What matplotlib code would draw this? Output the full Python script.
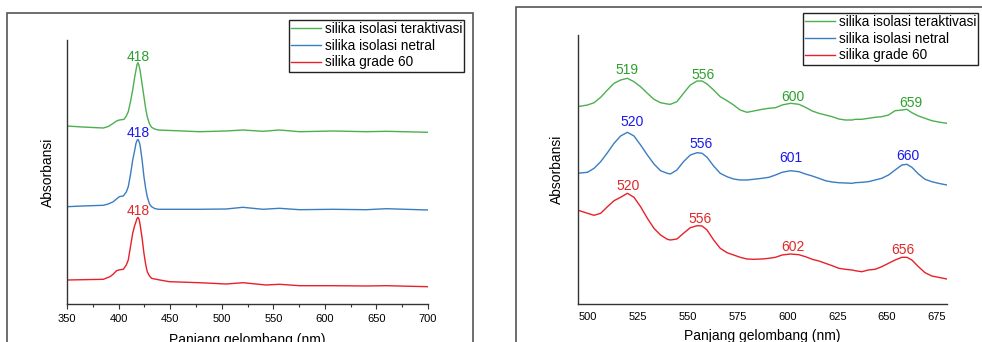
import matplotlib
matplotlib.use("Agg")
import matplotlib.pyplot as plt
from matplotlib.patches import Rectangle
from matplotlib.lines import Line2D

plt.rcParams['font.family'] = ['Liberation Sans', 'DejaVu Sans']

series_names = ["silika isolasi teraktivasi", "silika isolasi netral", "silika grade 60"]
line_colors = ["#4caf50", "#3a7dc0", "#e8202a"]
label_colors = ["#2ca02c", "#1a1aee", "#e02828"]

# ---- Left panel: 350-700 nm (offset absorbance) ----
left_x_green = [350, 365, 385.2, 390, 394.9, 398, 400.7, 403, 405.3, 407.5, 409.4, 411.5, 413.7, 415.5,
                416.9, 417.9, 418.8, 419.8, 420.8, 422.8, 424.6, 426.2, 427.8, 430, 432, 435, 438.5,
                478.4, 504.3, 520.5, 540, 556, 575.5, 607.8, 640.2, 659.6, 700]
left_y_green = [1.78, 1.77, 1.76, 1.775, 1.807, 1.83, 1.84, 1.843, 1.847, 1.88, 1.923, 2.02, 2.14, 2.26,
                2.34, 2.395, 2.413, 2.385, 2.34, 2.20, 2.073, 1.96, 1.873, 1.80, 1.767, 1.75, 1.74,
                1.723, 1.73, 1.74, 1.727, 1.74, 1.723, 1.73, 1.723, 1.727, 1.717]

left_x_blue = [350, 365, 385.2, 390, 394.9, 398, 400.7, 403, 404.6, 407.5, 409.4, 411.5, 413.7, 415.5,
               416.9, 417.9, 418.8, 419.8, 420.8, 422.8, 424.6, 426.2, 427.8, 430, 432, 435, 438.5,
               478.4, 504.3, 520.5, 540, 556, 575.5, 607.8, 640.2, 659.6, 700]
left_y_blue = [0.973, 0.98, 0.987, 1.0, 1.023, 1.05, 1.073, 1.078, 1.08, 1.12, 1.173, 1.29, 1.44, 1.53,
               1.607, 1.635, 1.647, 1.625, 1.59, 1.44, 1.273, 1.16, 1.073, 1.0, 0.973, 0.955, 0.947,
               0.947, 0.95, 0.967, 0.947, 0.957, 0.943, 0.947, 0.943, 0.953, 0.94]

left_x_red = [350, 365, 385.2, 391.6, 395, 398, 401, 404.6, 407.5, 409.4, 411.5, 413.7, 415.5,
              416.9, 417.9, 418.8, 419.8, 420.8, 422.8, 424.6, 426.2, 427.8, 430, 432, 435, 440,
              449.3, 478.4, 504.3, 520.5, 543.1, 556, 575.5, 607.8, 640.2, 659.6, 700]
left_y_red = [0.24, 0.243, 0.247, 0.273, 0.30, 0.333, 0.342, 0.347, 0.39, 0.44, 0.57, 0.707, 0.78,
              0.823, 0.855, 0.867, 0.85, 0.80, 0.66, 0.507, 0.40, 0.323, 0.28, 0.257, 0.25, 0.24,
              0.223, 0.213, 0.20, 0.213, 0.19, 0.197, 0.183, 0.183, 0.18, 0.183, 0.173]

left_peak_text = [["418"], ["418"], ["418"]]
left_peak_pos = [[(418.8, 2.473)], [(418.8, 1.707)], [(418.8, 0.93)]]

# ---- Right panel: 495-680 nm ----
right_x = [494.8, 499.9, 503.2, 506.5, 509.9, 513.2, 516.5, 519.9, 523.2, 526.5, 529.9, 533.2, 536.5, 539.9,
           541.4, 544.7, 548.0, 551.4, 554.8, 557.3, 559.8, 563.1, 566.4, 569.8, 573.1, 576.4, 579.8, 583.1,
           587.4, 590.8, 594.1, 597.4, 601.6, 605.8, 609.1, 612.5, 615.8, 619.1, 622.5, 625.8, 629.1, 632.5,
           634.0, 637.3, 640.6, 644.0, 647.3, 650.7, 654.0, 657.4, 659.9, 662.4, 665.7, 669.0, 672.4, 675.7, 679.9]
right_y_green = [1.973, 1.99, 2.013, 2.067, 2.14, 2.207, 2.24, 2.257, 2.223, 2.173, 2.107, 2.047, 2.013, 2.0,
                 1.997, 2.023, 2.107, 2.19, 2.23, 2.23, 2.20, 2.14, 2.073, 2.033, 1.99, 1.94, 1.917, 1.93,
                 1.947, 1.957, 1.963, 1.99, 2.007, 1.997, 1.967, 1.93, 1.907, 1.89, 1.873, 1.85, 1.84, 1.84,
                 1.847, 1.847, 1.857, 1.867, 1.873, 1.89, 1.933, 1.94, 1.947, 1.913, 1.88, 1.857, 1.833, 1.82, 1.807]
right_y_blue = [1.307, 1.317, 1.357, 1.423, 1.513, 1.607, 1.68, 1.717, 1.68, 1.59, 1.49, 1.40, 1.333, 1.307,
                1.30, 1.34, 1.423, 1.49, 1.513, 1.507, 1.467, 1.38, 1.307, 1.273, 1.25, 1.24, 1.24, 1.247,
                1.257, 1.267, 1.29, 1.317, 1.333, 1.323, 1.30, 1.28, 1.257, 1.233, 1.22, 1.213, 1.21, 1.207,
                1.213, 1.217, 1.223, 1.24, 1.257, 1.29, 1.34, 1.39, 1.397, 1.367, 1.30, 1.247, 1.223, 1.207, 1.19]
right_y_red = [0.94, 0.907, 0.887, 0.907, 0.973, 1.033, 1.067, 1.107, 1.067, 0.973, 0.857, 0.757, 0.69, 0.647,
               0.64, 0.65, 0.707, 0.763, 0.783, 0.78, 0.74, 0.64, 0.557, 0.513, 0.49, 0.467, 0.45, 0.447,
               0.45, 0.457, 0.467, 0.49, 0.50, 0.493, 0.473, 0.447, 0.43, 0.407, 0.383, 0.357, 0.347, 0.34,
               0.333, 0.323, 0.34, 0.347, 0.373, 0.407, 0.44, 0.467, 0.467, 0.44, 0.373, 0.313, 0.28, 0.267, 0.25]

right_peak_text = [["519", "556", "600", "659"], ["520", "556", "601", "660"], ["520", "556", "602", "656"]]
right_peak_pos = [[(519.9, 2.34), (557.8, 2.29), (602.8, 2.067), (661.7, 2.007)],
                  [(522.5, 1.817), (556.6, 1.60), (602.0, 1.457), (660.4, 1.48)],
                  [(520.5, 1.18), (556.3, 0.847), (602.8, 0.567), (658.0, 0.54)]]

W, H = 982, 342
fig = plt.figure(figsize=(W / 100, H / 100), dpi=100)

def fx(px):
    return px / W

def fy(py):
    return 1 - py / H

# outer frames
fig.patches.append(Rectangle((fx(7), fy(400)), fx(473) - fx(7), fy(13) - fy(400),
                             transform=fig.transFigure, fill=False, ec="#555555", lw=1.2))
fig.patches.append(Rectangle((fx(516), fy(400)), fx(1100) - fx(516), fy(7) - fy(400),
                             transform=fig.transFigure, fill=False, ec="#555555", lw=1.2))

axL = fig.add_axes([fx(67), fy(304), fx(428) - fx(67), fy(40) - fy(304)])
axR = fig.add_axes([fx(577.7), fy(304), fx(947) - fx(577.7), fy(35) - fy(304)])

def style(ax, ticks, ylpad, xlpad):
    for s in ("top", "right"):
        ax.spines[s].set_visible(False)
    for s in ("left", "bottom"):
        ax.spines[s].set_color("#333333")
        ax.spines[s].set_linewidth(1.0)
    ax.set_yticks([])
    ax.set_facecolor("none")
    ax.set_ylabel("Absorbansi", fontsize=10, labelpad=ylpad)
    ax.set_xlabel("Panjang gelombang (nm)", fontsize=10, labelpad=xlpad)
    if ticks:
        ax.tick_params(axis="x", which="major", direction="out", length=3.5, width=0.8,
                       labelsize=8, pad=4, color="#333333")
        ax.tick_params(axis="x", which="minor", direction="out", length=2.5, width=0.8, color="#333333")
    else:
        ax.tick_params(axis="x", which="both", length=0, labelsize=8, pad=6)

# left
lines_L = [(left_x_green, left_y_green), (left_x_blue, left_y_blue), (left_x_red, left_y_red)]
for i, (xs, ys) in enumerate(lines_L):
    axL.plot(xs, ys, color=line_colors[i], lw=1.0)
    for t, (px, py) in zip(left_peak_text[i], left_peak_pos[i]):
        axL.text(px, py, t, color=label_colors[i], fontsize=10, ha="center", va="center")
axL.set_xlim(350, 700)
axL.set_ylim(0, 2.64)
axL.set_xticks([350, 400, 450, 500, 550, 600, 650, 700])
axL.set_xticks([375, 425, 475, 525, 575, 625, 675], minor=True)
style(axL, True, 8.5, 6.5)

# right
lines_R = [right_y_green, right_y_blue, right_y_red]
for i, ys in enumerate(lines_R):
    axR.plot(right_x, ys, color=line_colors[i], lw=1.0)
    for t, (px, py) in zip(right_peak_text[i], right_peak_pos[i]):
        axR.text(px, py, t, color=label_colors[i], fontsize=10, ha="center", va="center")
axR.set_xlim(495, 680)
axR.set_ylim(0, 2.69)
axR.set_xticks([500, 525, 550, 575, 600, 625, 650, 675])
style(axR, False, 10, 5)

handles = [Line2D([], [], color=c, lw=1.0) for c in line_colors]
for (lx, ly) in [(289, 20), (803, 13)]:
    leg = fig.legend(handles, series_names, loc="upper left", bbox_to_anchor=(fx(lx), fy(ly)),
                     bbox_transform=fig.transFigure, borderaxespad=0, fontsize=9.8,
                     frameon=True, fancybox=False, framealpha=1, edgecolor="#222222",
                     handlelength=2.2, handletextpad=0.3, labelspacing=0.2, borderpad=0.15)
    leg.get_frame().set_linewidth(1.0)

fig.savefig("out.png", dpi=100)
